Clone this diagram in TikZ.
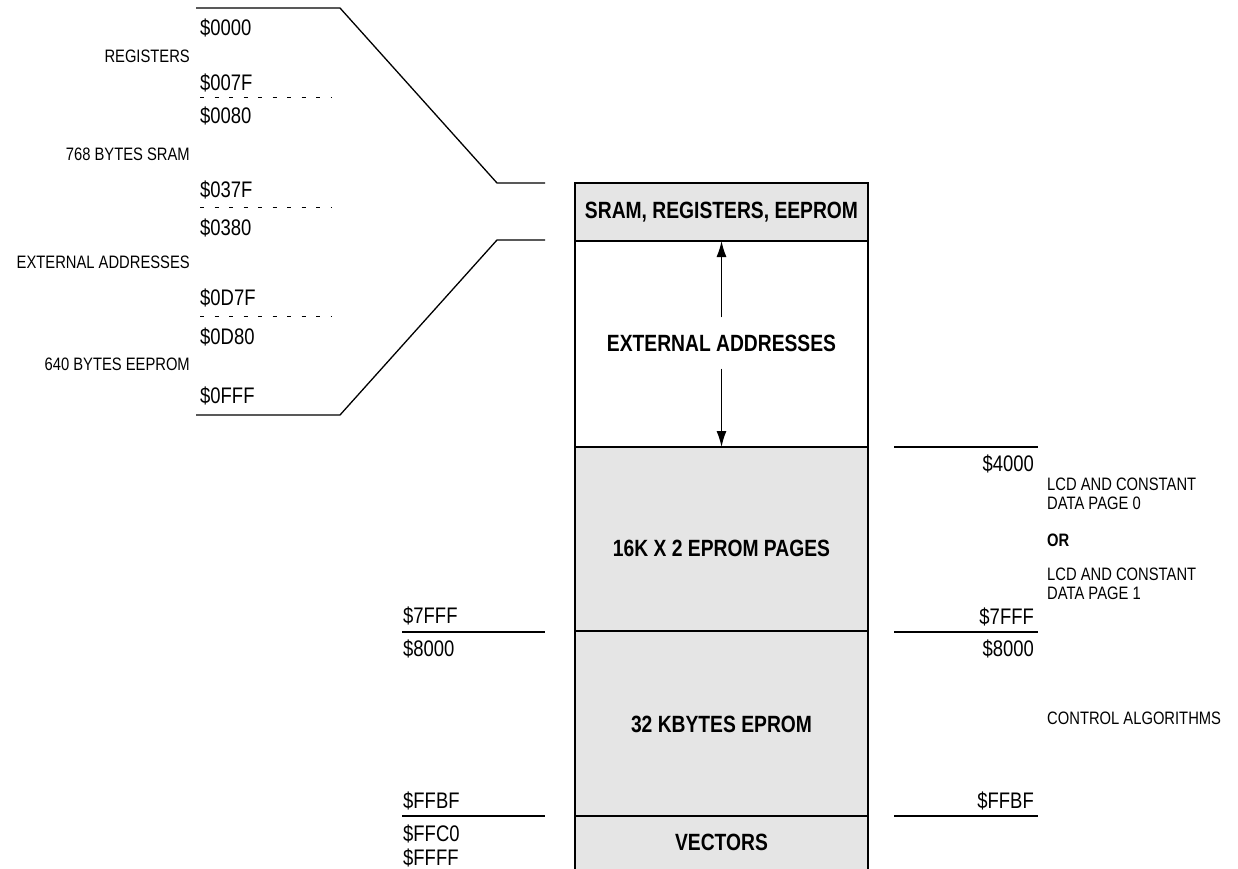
\documentclass[tikz,border=0pt]{standalone}
\usepackage{fontspec}
\setmainfont{Liberation Sans}[FakeStretch=0.82]
\usetikzlibrary{arrows.meta,positioning}
\tikzset{
  region/.style={draw,line width=1.3pt,fill=black!10,minimum width=293pt,inner sep=0pt,outer sep=0pt},
  blank/.style={region,fill=white},
  frame/.style={line width=2pt},
  title/.style={font=\fontsize{23.5}{26}\selectfont\bfseries,inner sep=0pt},
  addr/.style={font=\fontsize{22.5}{24}\selectfont,inner sep=0pt,text height=16pt,text depth=0pt},
  note/.style={font=\fontsize{18}{19}\selectfont,inner sep=0pt,text height=13pt,text depth=0pt},
  memo/.style={font=\fontsize{18}{19}\selectfont,inner sep=0pt,align=left},
  rule/.style={line width=1.3pt},
  split/.style={line width=1pt,dash pattern=on 4pt off 10.5pt},
  span/.style={-{Latex[length=16pt,width=10pt]},line width=1.3pt},
}

\begin{document}
\begin{tikzpicture}[x=1pt,y=-1pt]
\useasboundingbox (0,0) rectangle (1238,869);

% memory map column
\node[region,anchor=north west,minimum height=58pt] (sram) at (575,183) {};
\node[blank,minimum height=206pt,below=0pt of sram] (ext) {};
\node[region,minimum height=184pt,below=0pt of ext] (pages) {};
\node[region,minimum height=185pt,below=0pt of pages] (eprom) {};
\node[region,minimum height=60pt,below=0pt of eprom] (vec) {};
\draw[frame] (vec.south west) |- (sram.north east) -- (vec.south east);

\node[title] (sramlbl) at (sram.center) {SRAM, REGISTERS, EEPROM};
\node[title,inner ysep=17pt] (extlbl) at ([yshift=1pt]ext.center) {EXTERNAL ADDRESSES};
\node[title] (pageslbl) at ([yshift=-9pt]pages.center) {16K X 2 EPROM PAGES};
\node[title] (epromlbl) at ([yshift=-1pt]eprom.center) {32 KBYTES EPROM};
\node[title] (veclbl) at ([yshift=4pt]vec.center) {VECTORS};
\draw[span] (extlbl.north) -- (ext.north);
\draw[span] (extlbl.south) -- (ext.south);

% expanded low page
\coordinate (t0) at (196,8);
\coordinate (t1) at (340,8);
\coordinate (t2) at (497,183);
\coordinate (t3) at (545,183);
\coordinate (b0) at (196,415);
\coordinate (b1) at (340,415);
\coordinate (b2) at (497,240);
\coordinate (b3) at (545,240);
\draw[rule] (t0) -- (t1) -- (t2) -- (t3);
\draw[rule] (b0) -- (b1) -- (b2) -- (b3);
\coordinate (d1a) at (200,98);  \coordinate (d1b) at (332,98);
\coordinate (d2a) at (200,207); \coordinate (d2b) at (332,207);
\coordinate (d3a) at (200,316); \coordinate (d3b) at (332,316);
\draw[split] (d1a) -- (d1b);
\draw[split] (d2a) -- (d2b);
\draw[split] (d3a) -- (d3b);

\node[addr,anchor=west] (a0000) at (200,28) {\$0000};
\node[addr,anchor=west] (a007F) at (200,83) {\$007F};
\node[addr,anchor=west] (a0080) at (200,116) {\$0080};
\node[addr,anchor=west] (a037F) at (200,189) {\$037F};
\node[addr,anchor=west] (a0380) at (200,227) {\$0380};
\node[addr,anchor=west] (a0D7F) at (200,297) {\$0D7F};
\node[addr,anchor=west] (a0D80) at (200,336) {\$0D80};
\node[addr,anchor=west] (a0FFF) at (200,395) {\$0FFF};

\node[note,anchor=east] (regs) at (190,56) {REGISTERS};
\node[note,anchor=east] (ram) at (190,154) {768 BYTES SRAM};
\node[note,anchor=east] (xadr) at (190,262) {EXTERNAL ADDRESSES};
\node[note,anchor=east] (eep) at (190,364) {640 BYTES EEPROM};

% left boundaries
\coordinate (l1a) at (402,632); \coordinate (l1b) at (545,632);
\coordinate (l2a) at (402,816); \coordinate (l2b) at (545,816);
\draw[rule] (l1a) -- (l1b);
\draw[rule] (l2a) -- (l2b);
\node[addr,anchor=west] (l7FFF) at (403,615) {\$7FFF};
\node[addr,anchor=west] (l8000) at (403,648) {\$8000};
\node[addr,anchor=west] (lFFBF) at (403,800) {\$FFBF};
\node[addr,anchor=west] (lFFC0) at (403,833) {\$FFC0};
\node[addr,anchor=west] (lFFFF) at (403,857) {\$FFFF};

% right boundaries
\coordinate (r0a) at (894,447); \coordinate (r0b) at (1038,447);
\coordinate (r1a) at (894,632); \coordinate (r1b) at (1038,632);
\coordinate (r2a) at (894,816); \coordinate (r2b) at (1038,816);
\draw[rule] (r0a) -- (r0b);
\draw[rule] (r1a) -- (r1b);
\draw[rule] (r2a) -- (r2b);
\node[addr,anchor=east] (r4000) at (1034,463) {\$4000};
\node[addr,anchor=east] (r7FFF) at (1034,616) {\$7FFF};
\node[addr,anchor=east] (r8000) at (1034,648) {\$8000};
\node[addr,anchor=east] (rFFBF) at (1034,800) {\$FFBF};

\node[memo,anchor=north west] (page0) at (1047,478) {LCD AND CONSTANT\\DATA PAGE 0};
\node[memo,anchor=west,font=\fontsize{18}{19}\selectfont\bfseries] (or) at (1047,540) {OR};
\node[memo,anchor=north west] (page1) at (1047,568) {LCD AND CONSTANT\\DATA PAGE 1};
\node[note,anchor=west] (ctrl) at (1047,718) {CONTROL ALGORITHMS};
\end{tikzpicture}
\end{document}
